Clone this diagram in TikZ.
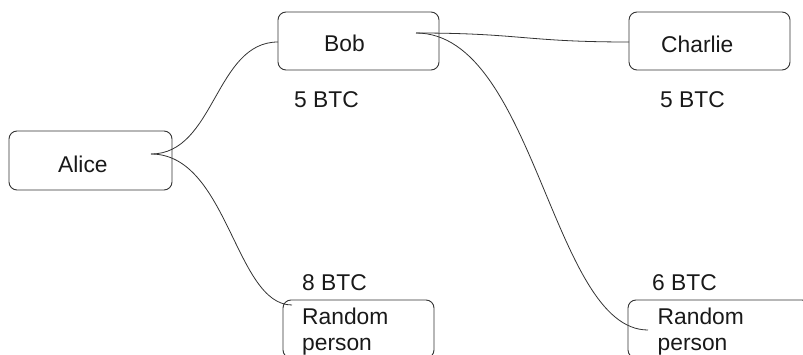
\documentclass[tikz,border=0pt]{standalone}
\usepackage{fontspec}
\setmainfont{Liberation Sans}
\definecolor{ink}{HTML}{333333}
\begin{document}
\begin{tikzpicture}[x=1pt,y=-1pt,
  box/.style={draw=ink, line width=0.9pt, rounded corners=8pt, inner sep=0pt},
  lbl/.style={anchor=base west, inner sep=0pt, text=black!90, font=\fontsize{22.8}{26}\selectfont},
  link/.style={draw=ink, line width=0.8pt}]
\useasboundingbox (0,0) rectangle (803,355);
\begin{scope}
\clip (0,0) rectangle (803,355);
\node[box, minimum width=163pt, minimum height=59pt] (alice) at (90.5,160.5) {};
\node[box, minimum width=161pt, minimum height=58pt] (bob) at (358.5,41) {};
\node[box, minimum width=161pt, minimum height=58pt] (charlie) at (709.5,41) {};
\node[box, minimum width=151pt, minimum height=58pt] (rand1) at (358.5,329) {};
\node[box, minimum width=182pt, minimum height=58pt] (rand2) at (719,329) {};
\end{scope}
\node[lbl] (talice) at (58,173) {Alice};
\node[lbl] (tbob) at (324,52) {Bob};
\node[lbl] (tcharlie) at (661,52.5) {Charlie};
\node[lbl] (v1) at (294,108) {5 BTC};
\node[lbl] (v2) at (660,108) {5 BTC};
\node[lbl] (v3) at (302,290.5) {8 BTC};
\node[lbl] (v4) at (652,290.5) {6 BTC};
\node[lbl] (r1a) at (302,324) {Random};
\node[lbl] (r1b) at (302,350) {person};
\node[lbl] (r2a) at (657.5,324) {Random};
\node[lbl] (r2b) at (657.5,350) {person};
\coordinate (aout) at (151,154);
\coordinate (bout) at (416,33);
\coordinate (bin) at (278,42);
\coordinate (cin) at (629,42);
\coordinate (r1in) at (292,305);
\coordinate (r2in) at (648,330);
\draw[link] (aout) .. controls (215,154) and (215,42) .. (bin);
\draw[link] (aout) .. controls (228,154) and (235,305) .. (r1in);
\draw[link] (bout) .. controls (520,33) and (525,42) .. (cin);
\draw[link] (bout) .. controls (535,33) and (552,330) .. (r2in);
\end{tikzpicture}
\end{document}
